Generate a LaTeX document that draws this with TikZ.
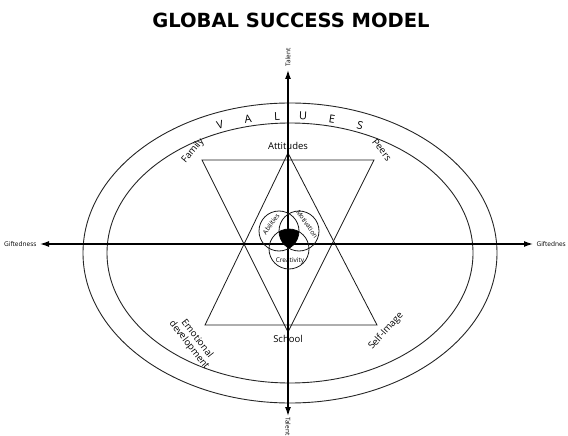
\documentclass[tikz,border=0pt]{standalone}
\usepackage{fontspec}
\setmainfont{Open Sans}
\newfontfamily\titlefont{DejaVu Sans}
\usetikzlibrary{arrows.meta}

\tikzset{
	axis/.style={line width=1.3pt,-{Latex[length=9pt,width=6pt]}},
	rim/.style={line width=0.9pt,draw=black!85},
	star/.style={line width=0.8pt,draw=black!90},
	lbl/.style={font=\fontsize{9.5}{10}\selectfont},
	small/.style={font=\fontsize{6.5}{7}\selectfont},
}

\begin{document}
\begin{tikzpicture}[x=1pt,y=-1pt]
	\useasboundingbox (0,0) rectangle (568,436);

	\node[font=\titlefont\bfseries\fontsize{19.5}{22}\selectfont] (title) at (291,20) {GLOBAL SUCCESS MODEL};

	% values band
	\draw[rim] (290,253) ellipse [x radius=207, y radius=150];
	\draw[rim] (290,253) ellipse [x radius=183, y radius=130];
	\foreach \ch/\dx/\rot in {V/-70/15,A/-42/9,L/-13/3,U/13/-3,E/42/-9,S/70/-15}
		\node[font=\fontsize{11}{11}\selectfont,rotate=\rot] (v\ch)
		  at ({290+\dx},{253-137*sqrt(1-(\dx/195)^2)}) {\ch};

	% star
	\coordinate (att) at (288,153);
	\coordinate (emo) at (205,325);
	\coordinate (self) at (377,325);
	\coordinate (fam) at (202,160);
	\coordinate (peer) at (374,160);
	\coordinate (sch) at (288,332);
	\draw[star] (att) -- (emo) -- (self) -- cycle;
	\draw[star] (fam) -- (peer) -- (sch) -- cycle;

	\node[lbl,anchor=south] (attl) at (att) {Attitudes};
	\node[lbl,anchor=north] (schl) at (sch) {School};
	\node[lbl,rotate=50] (faml) at (193,151) {Family};
	\node[lbl,rotate=-52] (peerl) at (382,150) {Peers};
	\node[lbl,rotate=-52,align=center,inner sep=0pt] (emol) at (193,342) {Emotional\\development};
	\node[lbl,rotate=48] (selfl) at (386,331) {Self-Image};

	% axes
	\node[small,anchor=east] (gl) at (40,244) {Giftedness};
	\node[small,anchor=west] (gr) at (533,244) {Giftednes};
	\node[small,rotate=90,anchor=west] (tt) at (288,70) {Talent};
	\node[small,rotate=-90,anchor=west,inner sep=1pt] (tb) at (288,416) {Talent};
	\coordinate (O) at (288,244);
	\draw[axis] (O) -- (gl);
	\draw[axis] (O) -- (gr);
	\draw[axis] (O) -- (tt);
	\draw[axis] (O) -- (tb);

	% core
	\coordinate (ca) at (279,231);
	\coordinate (cm) at (299,231);
	\coordinate (cc) at (289,249);
	\draw[star] (ca) circle [radius=20];
	\draw[star] (cm) circle [radius=20];
	\draw[star] (cc) circle [radius=20];
	\begin{scope}
		\clip (ca) circle [radius=20];
		\clip (cm) circle [radius=20];
		\fill (cc) circle [radius=20];
	\end{scope}
	\node[small,rotate=55,inner sep=0pt] (abl) at (271,224) {Abilities};
	\node[small,rotate=-55,inner sep=0pt] (mot) at (307,224) {Motivation};
	\node[small,inner sep=0pt] (cre) at (290,261) {Creativity};

\end{tikzpicture}
\end{document}
